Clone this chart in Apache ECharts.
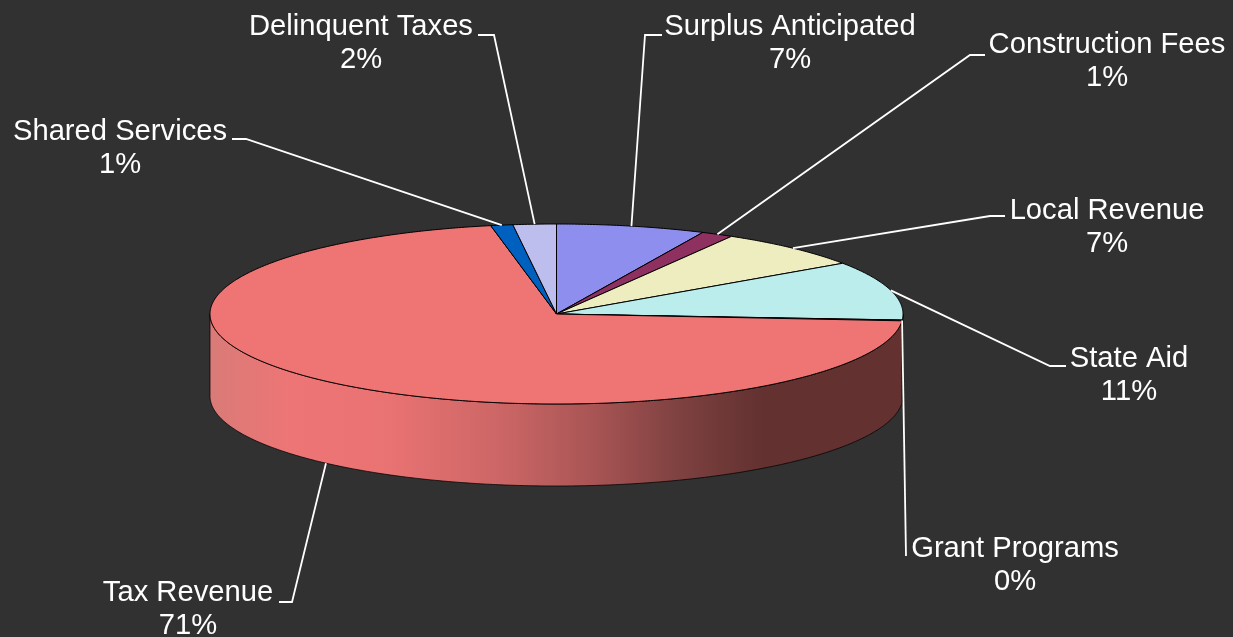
<!DOCTYPE html>
<html>
<head>
<meta charset="utf-8">
<style>html,body{margin:0;padding:0;background:#313131}#chart{width:1233px;height:637px}</style>
<script src="https://cdn.jsdelivr.net/npm/echarts@6/dist/echarts.min.js"></script>
</head>
<body>
<div id="chart"></div>
<script>
// Data
var categories = ['Surplus Anticipated','Construction Fees','Local Revenue','State Aid','Grant Programs','Tax Revenue','Shared Services','Delinquent Taxes'];
var shares = [6.94,1.49,7.04,10.6,0.14,70.75,1.03,2.01];

// Styles
var topColors = ['#8E8EEE','#8E3060','#EEEDC0','#BBEDED','#2A1040','#EF7575','#0060C0','#BEBEEE'];
var sideColors = ['#47477A','#471830','#777660','#2A1040','#2A1040',null,'#003060','#5F5F77'];
var bg = '#313131';

// Layout
var pie = {cx:556.5, cy:314, rx:346.5, ry:90, depth:82};
var labelCentres = [[790,27],[1107,45],[1107,211],[1129,359],[1015,549],[188,593],[120,132],[361,27]];
var leaderBends = [
  [[662,35],[645,35]],
  [[985,55],[970,55]],
  [[1005,216],[990,216]],
  [[1066,366],[1050,366]],
  [[906,556]],
  [[279,602],[292,602]],
  [[232,139],[246,139]],
  [[478,35],[494,35]]
];
var lineGap = 32.8, fontSize = 29.2;

var total = shares.reduce(function(a,b){return a+b;},0);
var starts = [], acc = 0;
shares.forEach(function(v){starts.push(acc/total*360); acc += v;});
function pt(deg, dy){
  var r = deg*Math.PI/180;
  return [pie.cx+pie.rx*Math.sin(r), pie.cy-pie.ry*Math.cos(r)+(dy||0)];
}
function arc(a,b,dy){
  var n = Math.max(2,Math.ceil(Math.abs(b-a)/0.5)), out=[];
  for(var i=0;i<=n;i++) out.push(pt(a+(b-a)*i/n,dy));
  return out;
}
var taxGradient = new echarts.graphic.LinearGradient(210,0,902,0,[
  {offset:0,color:'#D97B78'},{offset:0.12,color:'#EE7575'},{offset:0.26,color:'#E97272'},
  {offset:0.42,color:'#CC6666'},{offset:0.55,color:'#AA5555'},{offset:0.68,color:'#7D4140'},
  {offset:0.80,color:'#623130'},{offset:1,color:'#633130'}],true);

function renderSide(params){
  var i=params.dataIndex, a=starts[i], b=a+shares[i]/total*360;
  var s=Math.max(a,90), e=Math.min(b,270);
  if(e<=s) return null;
  var pts=arc(s,e,0).concat(arc(e,s,pie.depth));
  return {type:'polygon',shape:{points:pts},
    style:{fill:sideColors[i]||taxGradient,stroke:'rgba(0,0,0,0.75)',lineWidth:1}};
}
function renderTop(params){
  var i=params.dataIndex, a=starts[i], b=a+shares[i]/total*360;
  var pts=[[pie.cx,pie.cy]].concat(arc(a,b,0));
  return {type:'polygon',shape:{points:pts},
    style:{fill:topColors[i],stroke:'#000',lineWidth:1,lineJoin:'round',opacity:1}};
}
function renderLabel(params){
  var i=params.dataIndex, a=starts[i], b=a+shares[i]/total*360, mid=(a+b)/2;
  var front = mid>120 && mid<270;
  var start = pt(mid, front?pie.depth:0);
  var line = [start].concat(leaderBends[i].slice().reverse());
  var c = labelCentres[i];
  var pct = Math.round(shares[i]/total*100)+'%';
  var ts = {fill:'#fff',font:fontSize+'px "Liberation Sans", Arial, sans-serif',align:'center',verticalAlign:'middle'};
  return {type:'group',children:[
    {type:'polyline',shape:{points:line},style:{stroke:'#fff',lineWidth:1.8,fill:null}},
    {type:'text',x:c[0],y:c[1],style:Object.assign({text:categories[i]},ts)},
    {type:'text',x:c[0],y:c[1]+lineGap,style:Object.assign({text:pct},ts)}
  ]};
}
var chart = echarts.init(document.getElementById('chart'),null,{renderer:'canvas'});
chart.setOption({
  backgroundColor:bg,
  animation:false,
  series:[
    {type:'custom',name:'sides',coordinateSystem:'none',renderItem:renderSide,data:shares,z:1,silent:true},
    {type:'custom',name:'tops',coordinateSystem:'none',renderItem:renderTop,data:shares,z:2,silent:true},
    {type:'custom',name:'labels',coordinateSystem:'none',renderItem:renderLabel,data:shares,z:3,silent:true}
  ]
});
</script>
</body>
</html>
